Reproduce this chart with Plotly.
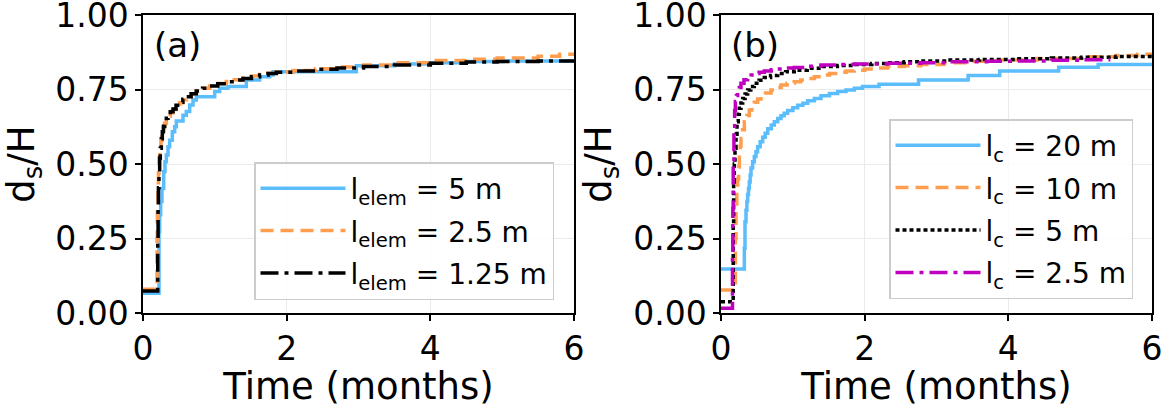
import plotly.graph_objects as go

# ---- panel (a): element size sensitivity (time in months, d_s/H) ----
t_a_5 = [0, 0.223, 0.232, 0.246, 0.264, 0.288, 0.306, 0.325, 0.348, 0.371, 0.408, 0.441, 0.464, 0.557,
         0.603, 0.65, 0.696, 0.742, 0.998, 1.067, 1.183, 1.438, 1.624, 1.763, 1.81, 2.97, 3.5, 4.0,
         4.46, 5.0, 6.0]
d_a_5 = [0.066, 0.273, 0.33, 0.374, 0.418, 0.474, 0.508, 0.53, 0.558, 0.58, 0.608, 0.625, 0.644, 0.664,
         0.676, 0.698, 0.715, 0.726, 0.743, 0.754, 0.76, 0.782, 0.793, 0.799, 0.81, 0.83, 0.836, 0.84,
         0.844, 0.846, 0.846]

t_a_25 = [0, 0.195, 0.2, 0.207, 0.215, 0.225, 0.235, 0.25, 0.265, 0.282, 0.3, 0.325, 0.348, 0.38, 0.418,
          0.46, 0.51, 0.555, 0.603, 0.67, 0.742, 0.83, 0.928, 1.04, 1.16, 1.27, 1.392, 1.51, 1.624,
          1.74, 1.856, 2.088, 2.4, 2.7, 3.07, 3.5, 4.0, 4.5, 4.93, 5.5, 5.8, 6.0]
d_a_25 = [0.08, 0.25, 0.35, 0.42, 0.47, 0.52, 0.55, 0.58, 0.603, 0.622, 0.637, 0.65, 0.66, 0.672, 0.683,
          0.695, 0.706, 0.716, 0.725, 0.735, 0.745, 0.754, 0.762, 0.77, 0.777, 0.783, 0.789, 0.795, 0.8,
          0.805, 0.809, 0.814, 0.82, 0.826, 0.832, 0.84, 0.847, 0.852, 0.856, 0.862, 0.868, 0.868]

t_a_125 = [0, 0.205, 0.21, 0.215, 0.222, 0.232, 0.241, 0.255, 0.269, 0.285, 0.302, 0.325, 0.348, 0.38,
           0.418, 0.46, 0.51, 0.555, 0.603, 0.67, 0.742, 0.83, 0.928, 1.04, 1.16, 1.27, 1.392, 1.51,
           1.624, 1.74, 1.856, 2.088, 2.4, 2.7, 3.07, 3.5, 4.0, 4.5, 4.93, 5.5, 6.0]
d_a_125 = [0.074, 0.25, 0.35, 0.42, 0.47, 0.52, 0.553, 0.585, 0.608, 0.627, 0.642, 0.654, 0.664, 0.675,
           0.685, 0.697, 0.707, 0.717, 0.726, 0.736, 0.745, 0.754, 0.762, 0.769, 0.776, 0.782, 0.787,
           0.793, 0.799, 0.804, 0.808, 0.812, 0.818, 0.822, 0.827, 0.832, 0.838, 0.842, 0.844, 0.846,
           0.847]

# ---- panel (b): correlation length sensitivity ----
t_b_20 = [0, 0.325, 0.334, 0.348, 0.36, 0.371, 0.383, 0.394, 0.406, 0.418, 0.44, 0.464, 0.487, 0.51,
          0.545, 0.58, 0.615, 0.65, 0.70, 0.742, 0.79, 0.835, 0.88, 0.928, 1.0, 1.067, 1.14, 1.207,
          1.30, 1.392, 1.51, 1.624, 1.74, 1.856, 1.97, 2.2, 2.75, 3.44, 3.88, 4.7, 5.25, 6.0]
d_b_20 = [0.148, 0.217, 0.306, 0.345, 0.374, 0.398, 0.418, 0.44, 0.463, 0.487, 0.508, 0.525, 0.541,
          0.558, 0.575, 0.59, 0.603, 0.618, 0.631, 0.642, 0.653, 0.662, 0.67, 0.68, 0.689, 0.697, 0.704,
          0.712, 0.72, 0.729, 0.737, 0.743, 0.748, 0.754, 0.76, 0.768, 0.782, 0.797, 0.812, 0.825, 0.834,
          0.834]

t_b_10 = [0, 0.2, 0.209, 0.22, 0.232, 0.245, 0.255, 0.267, 0.278, 0.30, 0.325, 0.36, 0.394, 0.43, 0.464,
          0.51, 0.557, 0.62, 0.696, 0.76, 0.835, 0.92, 1.02, 1.11, 1.207, 1.3, 1.392, 1.51, 1.624, 1.74,
          1.856, 2.0, 2.15, 2.32, 2.55, 2.78, 3.1, 3.5, 3.86, 4.4, 5.02, 5.5, 5.8, 6.0]
d_b_10 = [0.077, 0.25, 0.35, 0.42, 0.45, 0.49, 0.53, 0.56, 0.586, 0.615, 0.642, 0.663, 0.681, 0.695,
          0.707, 0.718, 0.728, 0.738, 0.748, 0.757, 0.765, 0.771, 0.776, 0.782, 0.787, 0.793, 0.799,
          0.804, 0.808, 0.812, 0.815, 0.819, 0.822, 0.827, 0.83, 0.834, 0.84, 0.845, 0.849, 0.854, 0.86,
          0.864, 0.868, 0.868]

t_b_5 = [0, 0.17, 0.176, 0.185, 0.195, 0.209, 0.223, 0.24, 0.255, 0.278, 0.302, 0.335, 0.371, 0.415,
         0.464, 0.53, 0.603, 0.69, 0.789, 0.9, 1.02, 1.2, 1.392, 1.62, 1.856, 2.1, 2.32, 2.55, 2.78,
         3.16, 3.6, 4.1, 4.6, 5.02, 5.5, 6.0]
d_b_5 = [0.038, 0.3, 0.44, 0.5, 0.553, 0.6, 0.642, 0.667, 0.687, 0.705, 0.72, 0.735, 0.748, 0.76, 0.771,
         0.781, 0.79, 0.797, 0.804, 0.81, 0.815, 0.821, 0.827, 0.831, 0.834, 0.837, 0.84, 0.843, 0.846,
         0.849, 0.851, 0.853, 0.856, 0.858, 0.861, 0.863]

t_b_25 = [0, 0.16, 0.165, 0.17, 0.18, 0.19, 0.2, 0.215, 0.232, 0.255, 0.278, 0.32, 0.371, 0.42, 0.464,
          0.53, 0.603, 0.7, 0.789, 0.9, 1.02, 1.2, 1.392, 1.62, 1.856, 2.32, 2.78, 3.16, 3.7, 4.1, 4.6,
          5.02, 5.42]
d_b_25 = [0.016, 0.2, 0.35, 0.5, 0.62, 0.68, 0.71, 0.73, 0.743, 0.757, 0.771, 0.783, 0.793, 0.799, 0.804,
          0.808, 0.812, 0.816, 0.819, 0.822, 0.824, 0.828, 0.832, 0.834, 0.836, 0.838, 0.84, 0.843, 0.845,
          0.846, 0.848, 0.85, 0.85]

x_ticks = [0, 2, 4, 6]
y_ticks = [0, 0.25, 0.5, 0.75, 1.0]

BLUE = "#5BBDFB"
ORANGE = "#FF9E4F"
MAGENTA = "#BF00BF"
FONT = "DejaVu Sans"

fig = go.Figure()

series_a = [
    (t_a_5, d_a_5, "l<sub>elem</sub> = 5 m", BLUE, "solid"),
    (t_a_25, d_a_25, "l<sub>elem</sub> = 2.5 m", ORANGE, "13px,7px"),
    (t_a_125, d_a_125, "l<sub>elem</sub> = 1.25 m", "black", "18px,6px,4px,6px"),
]
series_b = [
    (t_b_20, d_b_20, "l<sub>c</sub> = 20 m", BLUE, "solid"),
    (t_b_10, d_b_10, "l<sub>c</sub> = 10 m", ORANGE, "13px,7px"),
    (t_b_5, d_b_5, "l<sub>c</sub> = 5 m", "black", "4px,3px"),
    (t_b_25, d_b_25, "l<sub>c</sub> = 2.5 m", MAGENTA, "18px,6px,4px,6px"),
]

for panel, series in (("", series_a), ("2", series_b)):
    for i, (t, d, name, col, dash) in enumerate(series):
        assert len(t) == len(d)
        fig.add_trace(go.Scatter(
            x=t, y=d, mode="lines", name=name, xaxis="x" + panel, yaxis="y" + panel,
            line=dict(color=col, width=3.5, dash=dash, shape="hv"),
            legend="legend" + panel, legendgroup=f"g{panel}{i}"))

W, H = 1173, 408
y_dom = [(H - 313) / H, (H - 15) / H]

axis_common = dict(ticks="outside", ticklen=6, tickwidth=1.5, tickcolor="black",
                   showline=True, linecolor="black", linewidth=1.5, mirror=True,
                   showgrid=True, gridcolor="#EBEBEB", gridwidth=1, zeroline=False,
                   automargin=False, ticklabeloverflow="allow",
                   tickfont=dict(size=33, color="black"))

def xax(dom, anchor):
    return dict(domain=dom, anchor=anchor, range=[0, 6], tickvals=x_ticks,
                title=dict(text="Time (months)", font=dict(size=37, color="black"), standoff=4),
                **axis_common)

def yax(anchor):
    return dict(domain=y_dom, anchor=anchor, range=[0, 1.0001], tickvals=y_ticks, tickformat=".2f",
                title=dict(text="d<sub>s</sub>/H", font=dict(size=37, color="black"), standoff=10),
                **axis_common)

legend_common = dict(bgcolor="rgba(255,255,255,0.8)", bordercolor="#CCCCCC", borderwidth=1.5,
                     font=dict(size=28, color="black", family=FONT), xanchor="left", yanchor="top",
                     itemwidth=85, tracegroupgap=3)

fig.update_layout(
    width=W, height=H,
    margin=dict(l=0, r=0, t=0, b=0),
    paper_bgcolor="white", plot_bgcolor="white",
    font=dict(family=FONT, color="black"),
    showlegend=True,
    xaxis=xax([143 / W, 574 / W], "y"),
    yaxis=yax("x"),
    xaxis2=xax([721 / W, 1152 / W], "y2"),
    yaxis2=yax("x2"),
    legend=dict(x=254 / W, y=(H - 162) / H, **legend_common),
    legend2=dict(x=889 / W, y=(H - 119) / H, **legend_common),
    annotations=[
        dict(text="(a)", xref="x domain", yref="y domain", x=0.02, y=0.9, xanchor="left",
             yanchor="middle", showarrow=False, font=dict(size=34, color="black")),
        dict(text="(b)", xref="x2 domain", yref="y2 domain", x=0.018, y=0.9, xanchor="left",
             yanchor="middle", showarrow=False, font=dict(size=34, color="black")),
    ],
)

fig.write_html("out.html")
